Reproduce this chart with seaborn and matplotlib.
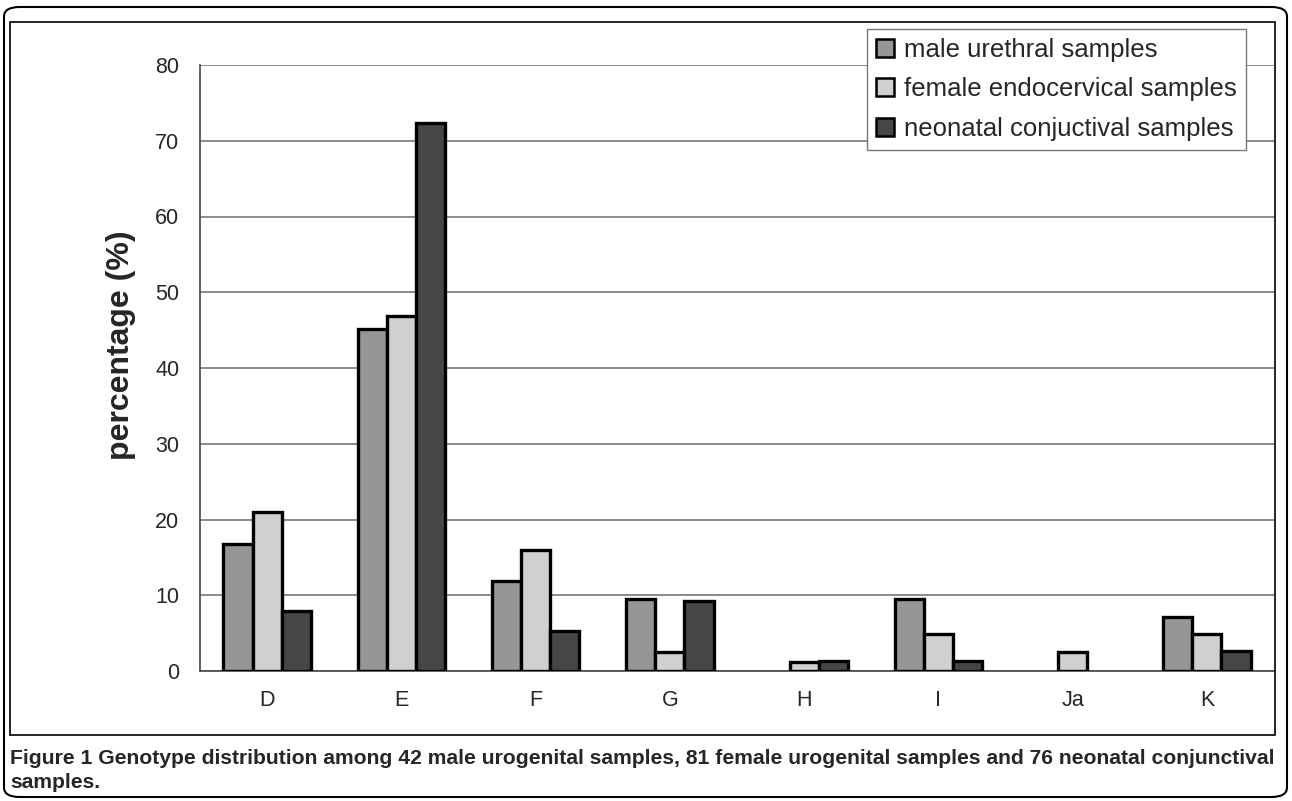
import pandas as pd
import numpy as np
import matplotlib.pyplot as plt
import seaborn as sns
from matplotlib.patches import FancyBboxPatch, Rectangle, Patch
from matplotlib.ticker import FixedLocator

genotypes = ["D", "E", "F", "G", "H", "I", "Ja", "K"]
male = [16.7, 45.2, 11.9, 9.5, 0.0, 9.5, 0.0, 7.1]
female = [21.0, 46.9, 16.0, 2.5, 1.2, 4.9, 2.5, 4.9]
neonatal = [7.9, 72.4, 5.3, 9.2, 1.3, 1.3, 0.0, 2.6]
series = ["male urethral samples", "female endocervical samples", "neonatal conjuctival samples"]
colors = ["#969696", "#d0d0d0", "#464646"]

df = pd.DataFrame({
    "genotype": genotypes * 3,
    "value": male + female + neonatal,
    "group": [series[0]] * 8 + [series[1]] * 8 + [series[2]] * 8,
})

sns.set_style("white")
plt.rcParams['font.family'] = ['Liberation Sans', 'DejaVu Sans']

fig = plt.figure(figsize=(12.92, 8.01), dpi=100)
ax = fig.add_axes([200/1292, 130/801, 1074/1292, 606/801])

sns.barplot(data=df, x="genotype", y="value", hue="group", palette=colors,
            width=0.65, edgecolor="black", linewidth=2.4, saturation=1,
            ax=ax, zorder=3, legend=False)

# empty bars should not leave a flat outline on the axis
for p in ax.patches:
    if p.get_height() == 0:
        p.set_linewidth(0)

ax.set_ylim(0, 80)
ax.set_xlim(-0.5, 7.5)
ax.set_yticks(np.arange(0, 81, 10))
ax.yaxis.grid(True, color="#777777", linewidth=1.2, zorder=0)
ax.set_axisbelow(True)
ax.tick_params(axis="y", labelsize=15.5, length=5, color="#555555", pad=10)
ax.tick_params(axis="x", which="major", labelsize=15.5, length=0, pad=14)
ax.xaxis.set_minor_locator(FixedLocator(np.arange(-0.5, 8, 1)))
ax.tick_params(axis="x", which="minor", length=6, color="#555555")
ax.set_xlabel("")
ax.set_ylabel("percentage (%)", fontsize=23, fontweight="bold")
ax.yaxis.set_label_coords(-0.06, (671 - 345)/606)
for side in ["top", "right"]:
    ax.spines[side].set_visible(False)
ax.spines["left"].set_color("#444444")
ax.spines["bottom"].set_color("#444444")
ax.spines["left"].set_linewidth(1.2)
ax.spines["bottom"].set_linewidth(1.2)

handles = [Patch(facecolor=c, edgecolor="black", linewidth=1.8, label=s)
           for c, s in zip(colors, series)]
leg = ax.legend(handles=handles, loc="upper right",
                bbox_to_anchor=((1246 - 200)/1074, (671 - 29)/606),
                fontsize=18.5, frameon=True, fancybox=False, handlelength=0.7,
                handleheight=0.7, handletextpad=0.4, borderpad=0.35, labelspacing=0.6,
                borderaxespad=0)
leg.get_frame().set_edgecolor("#777777")
leg.get_frame().set_linewidth(1.0)
leg.get_frame().set_alpha(1)

# chart frame and outer rounded border
fig.patches.append(Rectangle((10/1292, 66/801), 1265/1292, 713/801, transform=fig.transFigure,
                             fill=False, edgecolor="black", linewidth=1.2))
fig.patches.append(FancyBboxPatch((4/1292, 4/801), 1283/1292, 790/801,
                                  boxstyle="round,pad=0,rounding_size=0.012",
                                  transform=fig.transFigure, fill=False,
                                  edgecolor="black", linewidth=1.5))

cap_font = ['Liberation Sans', 'DejaVu Sans']
fig.text(10/1292, 1 - 758/801, "Figure 1 Genotype distribution among 42 male urogenital samples, 81 female urogenital samples and 76 neonatal conjunctival",
         fontsize=15.2, fontweight="bold", family=cap_font, va="center", ha="left")
fig.text(10/1292, 1 - 783/801, "samples.", fontsize=15.2, fontweight="bold", family=cap_font,
         va="center", ha="left")

fig.savefig("out.png", dpi=100)
